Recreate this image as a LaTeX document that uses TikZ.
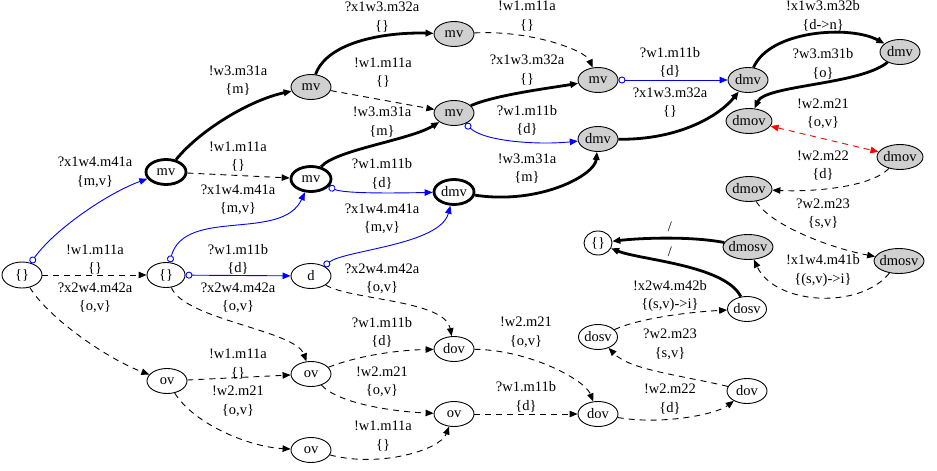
\documentclass[tikz,border=0pt]{standalone}
\usepackage{fontspec}
\setmainfont{Liberation Serif}
\usetikzlibrary{arrows.meta,shapes.geometric}
\definecolor{ndgray}{RGB}{208,208,208}
\begin{document}
\begin{tikzpicture}[x=1pt,y=-1pt,
  >={Triangle[length=8pt,width=6.5pt]},
  nd/.style={ellipse, draw, line width=0.9pt, minimum width=40pt, minimum height=25pt,
    inner xsep=-8pt, inner ysep=0pt, font=\fontsize{14.5}{17}\selectfont},
  gnd/.style={nd, fill=ndgray},
  bnd/.style={nd, line width=2.8pt},
  lbl/.style={align=center, inner sep=0pt, font=\fontsize{14.5}{18.5}\selectfont},
  dsh/.style={line width=0.9pt, dash pattern=on 6pt off 5pt, ->},
  thk/.style={line width=2.8pt, ->},
  odt/.style={line width=0.9pt, blue, arrows={Circle[open,length=7pt,width=7pt]-Triangle[length=8pt,width=6.5pt]}}
]
\useasboundingbox (0,0) rectangle (937,471);

% nodes
\node[nd, minimum height=26pt] (n0) at (22,275) {\{\}};
\node[bnd] (mvA) at (166,172) {mv};
\node[nd, minimum width=38pt] (e1) at (166,275) {\{\}};
\node[nd] (ovA) at (167,381) {ov};
\node[gnd] (mvB) at (311,87) {mv};
\node[bnd] (mvC) at (311,179) {mv};
\node[nd] (d) at (311,276) {d};
\node[nd] (ovB) at (311,374) {ov};
\node[nd] (ovC) at (311,450) {ov};
\node[gnd] (mvD) at (454,34) {mv};
\node[gnd] (mvE) at (454,113) {mv};
\node[bnd] (dmvA) at (454,192) {dmv};
\node[nd] (dov1) at (454,349) {dov};
\node[nd] (ov3) at (454,414) {ov};
\node[gnd] (mvF) at (598,80) {mv};
\node[gnd] (dmvB) at (598,139) {dmv};
\node[nd] (dov2) at (598,414) {dov};
\node[gnd] (dmvC) at (748,80) {dmv};
\node[gnd] (dmvD) at (900,52) {dmv};
\node[gnd, minimum width=46pt] (dmov1) at (749,121) {dmov};
\node[gnd, minimum width=46pt] (dmov2) at (900,157) {dmov};
\node[gnd, minimum width=46pt] (dmov3) at (749,189) {dmov};
\node[gnd, minimum width=50pt] (dmosv1) at (748,247) {dmosv};
\node[gnd, minimum width=50pt] (dmosv2) at (899,261) {dmosv};
\node[nd, minimum width=28pt, minimum height=24pt] (f) at (598,243) {\{\}};
\node[nd, minimum width=39pt] (dosv1) at (747,309) {dosv};
\node[nd, minimum width=39pt] (dosv2) at (598,337) {dosv};
\node[nd] (dov3) at (747,391) {dov};

% edges
\draw[odt] (n0) .. controls (55,229) and (108,193) .. (mvA);
\draw[dsh] (n0) -- (e1);
\draw[dsh] (n0) .. controls (50,320) and (110,360) .. (ovA);

\draw[thk] (mvA) .. controls (200,130) and (250,100) .. (mvB);
\draw[dsh] (mvA) -- (mvC);
\draw[odt] (e1) .. controls (185,207) and (282,242) .. (mvC);
\draw[odt] (e1) -- (d);
\draw[dsh] (e1) .. controls (185,320) and (295,330) .. (ovB);
\draw[dsh] (ovA) -- (ovB);
\draw[dsh] (ovA) .. controls (195,425) and (250,447) .. (ovC);

\draw[thk] (mvB) .. controls (328,40) and (390,32) .. (mvD);
\draw[dsh] (mvB) -- (mvE);
\draw[thk] (mvC) .. controls (335,150) and (410,140) .. (mvE);
\draw[odt] (mvC) .. controls (345,194) and (400,193) .. (dmvA);
\draw[odt] (d) .. controls (345,250) and (440,245) .. (dmvA);
\draw[dsh] (d) .. controls (350,300) and (445,300) .. (dov1);
\draw[dsh] (ovB) .. controls (360,355) and (400,350) .. (dov1);
\draw[dsh] (ovB) .. controls (340,405) and (400,412) .. (ov3);
\draw[dsh] (ovC) .. controls (380,468) and (440,450) .. (ov3);

\draw[dsh] (mvD) .. controls (530,30) and (585,50) .. (mvF);
\draw[thk] (mvE) .. controls (495,95) and (550,88) .. (mvF);
\draw[odt] (mvE) .. controls (485,142) and (540,145) .. (dmvB);
\draw[thk] (dmvA) .. controls (540,205) and (595,175) .. (dmvB);
\draw[dsh] (dov1) .. controls (530,350) and (585,380) .. (dov2);
\draw[dsh] (ov3) -- (dov2);

\draw[odt] (mvF) -- (dmvC);
\draw[thk] (dmvB) .. controls (680,140) and (720,115) .. (dmvC);
\draw[dsh] (dov2) .. controls (660,425) and (715,415) .. (dov3);

\draw[thk] (dmvC) .. controls (770,30) and (850,25) .. (dmvD);
\draw[thk] (dmvD) .. controls (860,85) and (765,85) .. (dmov1);
\draw[dsh, red, <->] (dmov1) -- (dmov2);
\draw[dsh] (dmov2) .. controls (870,188) and (810,192) .. (dmov3);
\draw[dsh] (dmov3) .. controls (770,225) and (830,248) .. (dmosv2);
\draw[dsh] (dmosv2) .. controls (860,310) and (775,305) .. (dmosv1);
\draw[thk] (dmosv1) .. controls (690,236) and (640,238) .. (f);
\draw[thk] (dosv1) .. controls (725,265) and (640,260) .. (f);
\draw[dsh] (dosv2) .. controls (640,318) and (690,312) .. (dosv1);
\draw[dsh] (dov3) .. controls (680,375) and (630,370) .. (dosv2);

% labels
\node[lbl] (L1) at (95,172.5) {?x1w4.m41a\\\{m,v\}};
\node[lbl] (L2) at (95,259.5) {!w1.m11a\\\{\}};
\node[lbl] (L3) at (95,298) {?x2w4.m42a\\\{o,v\}};
\node[lbl] (L4) at (238,80.5) {!w3.m31a\\\{m\}};
\node[lbl] (L5) at (238,156.5) {!w1.m11a\\\{\}};
\node[lbl] (L6) at (238,200) {?x1w4.m41a\\\{m,v\}};
\node[lbl] (L7) at (238,259.5) {?w1.m11b\\\{d\}};
\node[lbl] (L8) at (238,298) {?x2w4.m42a\\\{o,v\}};
\node[lbl] (L9) at (238,364) {!w1.m11a\\\{\}};
\node[lbl] (L10) at (238,401.5) {!w2.m21\\\{o,v\}};
\node[lbl] (L11) at (382,17) {?x1w3.m32a\\\{\}};
\node[lbl] (L12) at (383,72.5) {!w1.m11a\\\{\}};
\node[lbl] (L13) at (382,122) {!w3.m31a\\\{m\}};
\node[lbl] (L14) at (382,174) {?w1.m11b\\\{d\}};
\node[lbl] (L15) at (382,219) {?x1w4.m41a\\\{m,v\}};
\node[lbl] (L16) at (382,279) {?x2w4.m42a\\\{o,v\}};
\node[lbl] (L17) at (382,332.5) {?w1.m11b\\\{d\}};
\node[lbl] (L18) at (382,382) {!w2.m21\\\{o,v\}};
\node[lbl] (L19) at (383,436) {!w1.m11a\\\{\}};
\node[lbl] (L20) at (527,16) {!w1.m11a\\\{\}};
\node[lbl] (L21) at (527,70) {?x1w3.m32a\\\{\}};
\node[lbl] (L22) at (527,120.5) {?w1.m11b\\\{d\}};
\node[lbl] (L23) at (527,168.5) {!w3.m31a\\\{m\}};
\node[lbl] (L24) at (526,332.5) {!w2.m21\\\{o,v\}};
\node[lbl] (L25) at (526,397) {?w1.m11b\\\{d\}};
\node[lbl] (L26) at (670,62.5) {?w1.m11b\\\{d\}};
\node[lbl] (L27) at (670,102.5) {?x1w3.m32a\\\{\}};
\node[lbl] (L28) at (670,399) {!w2.m22\\\{d\}};
\node[lbl] (L29) at (823,16) {!x1w3.m32b\\\{d->n\}};
\node[lbl] (L30) at (823,64) {?w3.m31b\\\{o\}};
\node[lbl] (L31) at (823,114) {!w2.m21\\\{o,v\}};
\node[lbl] (L32) at (823,165.5) {!w2.m22\\\{d\}};
\node[lbl] (L33) at (823,214) {?w2.m23\\\{s,v\}};
\node[lbl] (L34) at (823,270.5) {!x1w4.m41b\\\{(s,v)->i\}};
\node[lbl] (L35) at (670,227) {/};
\node[lbl] (L36) at (670,252) {/};
\node[lbl] (L37) at (670,296) {!x2w4.m42b\\\{(s,v)->i\}};
\node[lbl] (L38) at (670,344.5) {?w2.m23\\\{s,v\}};
\end{tikzpicture}
\end{document}
